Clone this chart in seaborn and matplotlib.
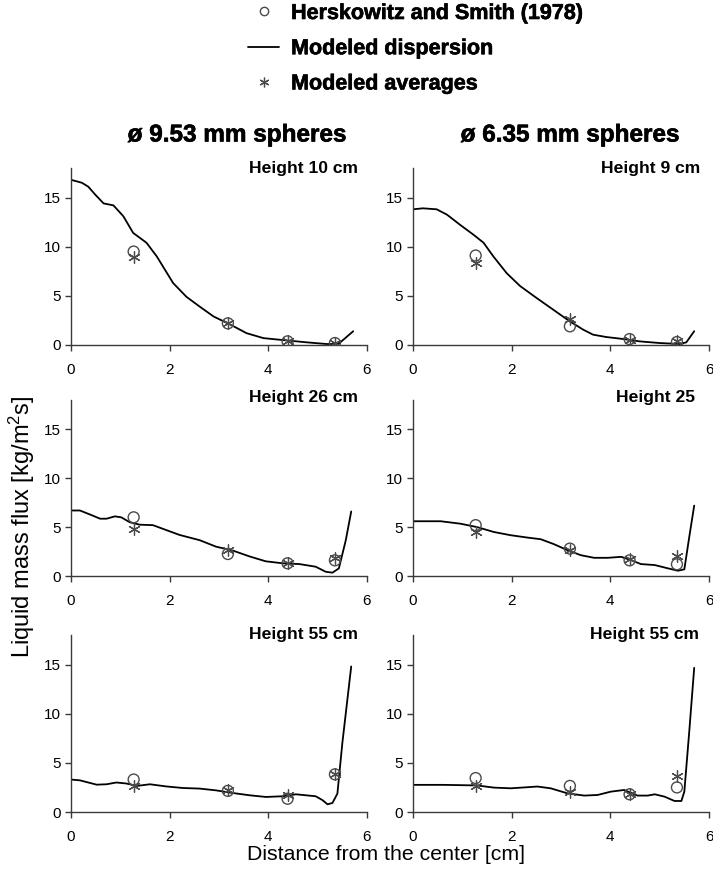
import matplotlib
matplotlib.use("Agg")
import matplotlib.pyplot as plt
from matplotlib.lines import Line2D
import matplotlib.patheffects as pe
import numpy as np
import pandas as pd
import seaborn as sns

# ---- Measured points (Herskowitz and Smith, 1978) and model averages ----
x_points = [1.27, 3.18, 4.39, 5.35]

meas_953_h10 = [9.5, 2.2, 0.37, 0.2]
avg_953_h10 = [9.0, 2.2, 0.4, 0.2]
meas_635_h9 = [9.1, 1.9, 0.6, 0.3]
avg_635_h9 = [8.3, 2.6, 0.5, 0.4]

meas_953_h26 = [6.0, 2.25, 1.3, 1.6]
avg_953_h26 = [4.85, 2.65, 1.35, 1.8]
meas_635_h25 = [5.2, 2.8, 1.6, 1.2]
avg_635_h25 = [4.5, 2.7, 1.7, 2.0]

meas_953_h55 = [3.3, 2.15, 1.35, 3.83]
avg_953_h55 = [2.65, 2.2, 1.7, 3.83]
meas_635_h55 = [3.45, 2.65, 1.8, 2.5]
avg_635_h55 = [2.6, 2.0, 1.8, 3.7]

# ---- Modeled dispersion profiles ----
r_953_h10 = [0, 0.22, 0.35, 0.49, 0.66, 0.86, 1.06, 1.26, 1.53, 1.74, 2.07, 2.34,
             2.61, 2.89, 3.22, 3.56, 3.9, 4.3, 4.78, 5.18, 5.42, 5.72]
q_953_h10 = [16.8, 16.5, 16.1, 15.3, 14.4, 14.2, 13.1, 11.4, 10.4, 9.0, 6.3, 4.9,
             3.9, 2.9, 2.1, 1.2, 0.7, 0.5, 0.27, 0.1, 0.1, 1.4]

r_635_h9 = [0, 0.2, 0.48, 0.69, 0.96, 1.23, 1.43, 1.63, 1.9, 2.17, 2.5, 2.84,
            3.18, 3.45, 3.65, 3.92, 4.26, 4.59, 5.0, 5.4, 5.54, 5.7]
q_635_h9 = [13.8, 13.9, 13.8, 13.25, 12.2, 11.2, 10.4, 9.0, 7.3, 6.0, 4.8, 3.6,
            2.4, 1.56, 1.05, 0.81, 0.61, 0.37, 0.2, 0.1, 0.27, 1.4]

r_953_h26 = [0, 0.18, 0.38, 0.59, 0.72, 0.89, 1.02, 1.19, 1.39, 1.66, 1.93, 2.2,
             2.61, 2.94, 3.28, 3.62, 3.95, 4.29, 4.63, 4.96, 5.16, 5.3, 5.43,
             5.57, 5.68]
q_953_h26 = [6.7, 6.7, 6.3, 5.86, 5.86, 6.1, 6.0, 5.5, 5.25, 5.2, 4.7, 4.2,
             3.66, 3.0, 2.6, 2.0, 1.5, 1.3, 1.22, 0.95, 0.44, 0.34, 0.78,
             3.66, 6.6]

r_635_h25 = [0, 0.56, 0.96, 1.3, 1.64, 1.98, 2.32, 2.59, 2.86, 3.13, 3.4, 3.67,
             3.95, 4.22, 4.42, 4.62, 4.9, 5.17, 5.37, 5.5, 5.6, 5.7]
q_635_h25 = [5.6, 5.6, 5.35, 5.0, 4.5, 4.17, 3.93, 3.76, 3.25, 2.64, 2.13, 1.86,
             1.86, 1.96, 1.62, 1.22, 1.12, 0.78, 0.54, 0.68, 4.0, 7.2]

r_953_h55 = [0, 0.18, 0.52, 0.72, 0.92, 1.12, 1.33, 1.6, 1.93, 2.27, 2.61, 2.94,
             3.28, 3.62, 3.95, 4.29, 4.56, 4.96, 5.1, 5.2, 5.3, 5.4, 5.5, 5.68]
q_953_h55 = [3.3, 3.22, 2.78, 2.82, 3.0, 2.9, 2.65, 2.82, 2.6, 2.44, 2.38, 2.2,
             1.93, 1.7, 1.53, 1.6, 1.8, 1.6, 1.2, 0.78, 0.92, 1.87, 7.0, 14.8]

r_635_h55 = [0, 0.62, 1.3, 1.64, 1.98, 2.32, 2.52, 2.79, 3.13, 3.47, 3.74, 4.01,
             4.28, 4.55, 4.76, 4.9, 5.1, 5.3, 5.44, 5.5, 5.6, 5.7]
q_635_h55 = [2.76, 2.76, 2.7, 2.48, 2.41, 2.52, 2.59, 2.41, 1.9, 1.67, 1.73, 2.07,
             2.24, 1.67, 1.67, 1.8, 1.56, 1.12, 1.12, 2.07, 8.2, 14.66]

column_titles = ["ø 9.53 mm spheres", "ø 6.35 mm spheres"]
panel_titles = [["Height 10 cm", "Height 9 cm"],
                ["Height 26 cm", "Height 25"],
                ["Height 55 cm", "Height 55 cm"]]
legend_labels = ["Herskowitz and Smith (1978)", "Modeled dispersion", "Modeled averages"]
x_ticks = [0, 2, 4, 6]
y_ticks = [0, 5, 10, 15]

panels = [
    [(r_953_h10, q_953_h10, meas_953_h10, avg_953_h10),
     (r_635_h9, q_635_h9, meas_635_h9, avg_635_h9)],
    [(r_953_h26, q_953_h26, meas_953_h26, avg_953_h26),
     (r_635_h25, q_635_h25, meas_635_h25, avg_635_h25)],
    [(r_953_h55, q_953_h55, meas_953_h55, avg_953_h55),
     (r_635_h55, q_635_h55, meas_635_h55, avg_635_h55)],
]

sns.set_style("white")
plt.rcParams["font.family"] = ["Liberation Sans", "DejaVu Sans"]
plt.rcParams["text.color"] = "black"
plt.rcParams["axes.labelcolor"] = "black"
plt.rcParams["xtick.color"] = "black"
plt.rcParams["ytick.color"] = "black"

W, H = 713, 876
fig = plt.figure(figsize=(W / 100, H / 100), dpi=100)

col_left = [71, 413]
ax_width = 296
row_top = [168, 400, 635]
row_bottom = [345, 576, 812]
title_pos = [[(0.97, 1.0), (0.97, 1.0)],
             [(0.97, 1.017), (0.953, 1.017)],
             [(0.97, 1.005), (0.966, 1.005)]]

spine_color = "#3a3a3a"
mark_color = "#4a4a4a"
star = (6, 2, 0)
heavy = [pe.withStroke(linewidth=0.45, foreground="black")]

for i in range(3):
    for j in range(2):
        rr, qq, meas, avg = panels[i][j]
        ax = fig.add_axes([col_left[j] / W, 1 - row_bottom[i] / H,
                           ax_width / W, (row_bottom[i] - row_top[i]) / H])
        curve = pd.DataFrame({"r": rr, "q": qq})
        sns.lineplot(data=curve, x="r", y="q", ax=ax, color="black",
                     linewidth=1.3, sort=False, estimator=None)
        pts = pd.DataFrame({"r": x_points, "meas": meas, "avg": avg})
        sns.scatterplot(data=pts, x="r", y="meas", ax=ax, marker="o", s=62,
                        facecolor="none", edgecolor=mark_color, linewidth=1.0,
                        zorder=3)
        sns.scatterplot(data=pts, x="r", y="avg", ax=ax, marker=star, s=70,
                        color=mark_color, edgecolor=mark_color, linewidth=0.9,
                        zorder=3)
        ax.set_xlim(0, 6)
        ax.set_ylim(0, 18)
        ax.set_xticks(x_ticks)
        ax.set_yticks(y_ticks)
        ax.set_xlabel("")
        ax.set_ylabel("")
        for side in ("top", "right"):
            ax.spines[side].set_visible(False)
        for side in ("left", "bottom"):
            ax.spines[side].set_color(spine_color)
            ax.spines[side].set_linewidth(1.0)
        ax.tick_params(axis="x", direction="out", length=4, width=1.0,
                       color=spine_color, labelcolor="black", labelsize=11,
                       pad=9, bottom=True)
        ax.tick_params(axis="y", direction="out", length=4, width=1.0,
                       color=spine_color, labelcolor="black", labelsize=11,
                       pad=3.5, left=True)
        tx, ty = title_pos[i][j]
        ax.text(tx, ty, panel_titles[i][j], transform=ax.transAxes,
                ha="right", va="center", fontsize=12.6, fontweight="bold",
                color="black")

for cx, title in zip([237, 570], column_titles):
    fig.text(cx / W, 1 - 135 / H, title, ha="center", va="center",
             fontsize=17.5, fontweight="bold", color="black",
             path_effects=heavy)

fig.text(22 / W, 1 - 527 / H, r"Liquid mass flux [kg/m$\mathregular{^2}$s]",
         rotation=90, ha="center", va="center", fontsize=17, color="black")
fig.text(386 / W, 1 - 854 / H, "Distance from the center [cm]",
         ha="center", va="center", fontsize=15.3, color="black")

handles = [
    Line2D([], [], linestyle="none", marker="o", markersize=6,
           markerfacecolor="none", markeredgecolor=mark_color, markeredgewidth=1.0),
    Line2D([], [], color="black", linewidth=1.3),
    Line2D([], [], linestyle="none", marker=star, markersize=7,
           color=mark_color, markeredgewidth=0.9),
]
leg = fig.legend(handles, legend_labels, loc="upper left",
                 bbox_to_anchor=(248 / W, 1 - 3 / H), frameon=False,
                 prop={"weight": "bold", "size": 15.5}, handlelength=1.45,
                 handletextpad=0.55, labelspacing=0.66, borderaxespad=0.0,
                 borderpad=0.0)
for t in leg.get_texts():
    t.set_color("black")
    t.set_path_effects(heavy)

fig.savefig("out.png", dpi=100)
